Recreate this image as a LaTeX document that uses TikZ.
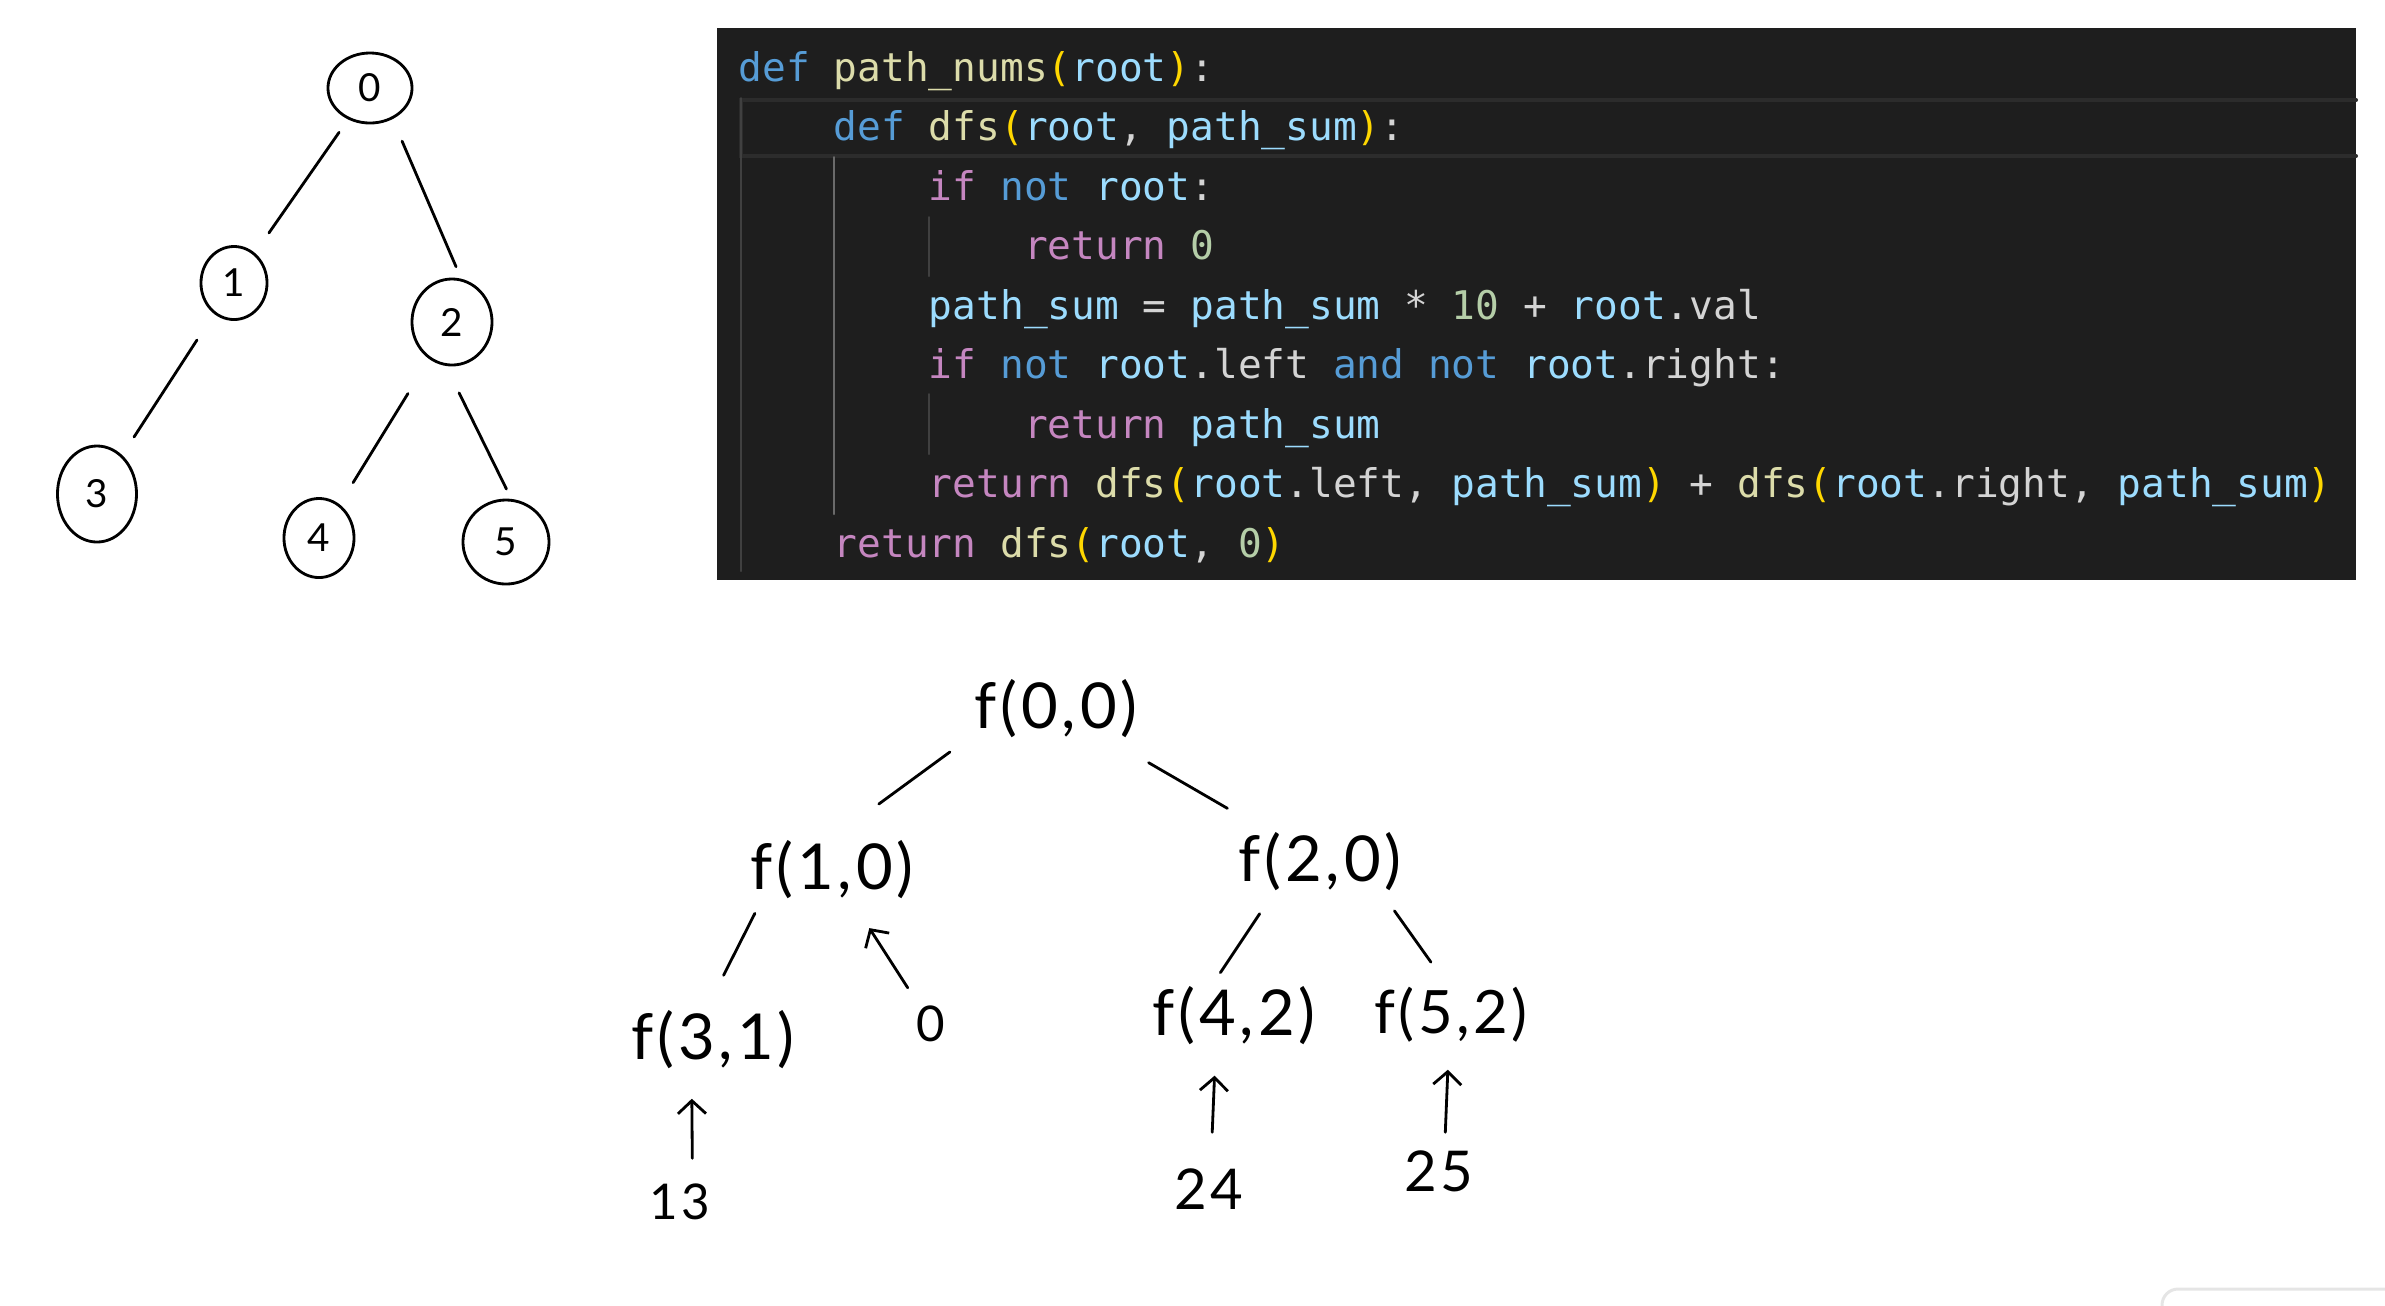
\documentclass[tikz,border=0pt]{standalone}
\usepackage{fontspec}
\usepackage{tikz}
\usetikzlibrary{arrows.meta, shapes.geometric}
\newfontfamily\codefont{DejaVu Sans Mono}
\newfontfamily\handfont[LetterSpace=6]{Lato}
\definecolor{codebg}{HTML}{1E1E1E}
\definecolor{codeplain}{HTML}{D4D4D4}
\definecolor{kwblue}{HTML}{569CD6}
\definecolor{ctlpink}{HTML}{C586C0}
\definecolor{fnyellow}{HTML}{DCDCAA}
\definecolor{varblue}{HTML}{9CDCFE}
\definecolor{numgreen}{HTML}{B5CEA8}
\definecolor{bracketgold}{HTML}{FFD700}
\definecolor{guidegray}{HTML}{404040}
\definecolor{guideactive}{HTML}{6A6A6A}
\definecolor{linehl}{HTML}{2C2C2C}
\newcommand{\tkKw}[1]{\textcolor{kwblue}{#1}}
\newcommand{\tkCtl}[1]{\textcolor{ctlpink}{#1}}
\newcommand{\tkFn}[1]{\textcolor{fnyellow}{#1}}
\newcommand{\tkVar}[1]{\textcolor{varblue}{#1}}
\newcommand{\tkNum}[1]{\textcolor{numgreen}{#1}}
\newcommand{\tkBr}[1]{\textcolor{bracketgold}{#1}}

\begin{document}
\begin{tikzpicture}
		[x=0.01cm, y=-0.01cm, line cap=round,
		codeline/.style={anchor=base west, inner sep=0pt, text=codeplain, font=\codefont\fontsize{11.23}{14}\selectfont},
		indentguide/.style={draw=guidegray, line width=0.02cm},
		treenode/.style={ellipse, draw, line width=0.8pt, inner sep=0pt, font=\handfont\fontsize{11}{11}\selectfont},
		treeedge/.style={line width=0.8pt},
		callnode/.style={inner sep=0pt, minimum width=1.8cm, minimum height=0.62cm, font=\handfont\fontsize{18}{18}\selectfont},
		retnode/.style={inner sep=0pt, minimum width=0.8cm, minimum height=0.6cm, font=\handfont\fontsize{16}{16}\selectfont},
		retarrow/.style={treeedge, -{Straight Barb[length=0.13cm, width=0.28cm]}}]
	
		\useasboundingbox (0,0) rectangle (2385,1305);
	
		% code %
		\fill[codebg] (717,28) rectangle (2356,580);
		\draw[linehl, line width=0.04cm] (2356,100) -- (741,100) -- (741,156) -- (2356,156);
		\draw[indentguide] (741,98) -- (741,571);
		\draw[indentguide, draw=guideactive] (834,157) -- (834,514);
		\draw[indentguide] (929,217) -- (929,276);
		\draw[indentguide] (929,394) -- (929,454);
	
		\node[codeline] (l1) at (738,81) {\tkKw{def} \tkFn{path\_nums}\tkBr{(}\tkVar{root}\tkBr{)}:};
		\node[codeline] (l2) at (833.1,140.5) {\tkKw{def} \tkFn{dfs}\tkBr{(}\tkVar{root}, \tkVar{path\_sum}\tkBr{)}:};
		\node[codeline] (l3) at (928.2,200) {\tkCtl{if} \tkKw{not} \tkVar{root}:};
		\node[codeline] (l4) at (1023.4,259.5) {\tkCtl{return} \tkNum{0}};
		\node[codeline] (l5) at (928.2,319) {\tkVar{path\_sum} = \tkVar{path\_sum} * \tkNum{10} + \tkVar{root}.val};
		\node[codeline] (l6) at (928.2,378.5) {\tkCtl{if} \tkKw{not} \tkVar{root}.left \tkKw{and} \tkKw{not} \tkVar{root}.right:};
		\node[codeline] (l7) at (1023.4,438) {\tkCtl{return} \tkVar{path\_sum}};
		\node[codeline] (l8) at (928.2,497.5) {\tkCtl{return} \tkFn{dfs}\tkBr{(}\tkVar{root}.left, \tkVar{path\_sum}\tkBr{)} + \tkFn{dfs}\tkBr{(}\tkVar{root}.right, \tkVar{path\_sum}\tkBr{)}};
		\node[codeline] (l9) at (833.1,557) {\tkCtl{return} \tkFn{dfs}\tkBr{(}\tkVar{root}, \tkNum{0}\tkBr{)}};
	
		% nodes %
		\node[treenode, minimum width=0.84cm, minimum height=0.70cm] (n0) at (370,88) {0};
		\node[treenode, minimum width=0.66cm, minimum height=0.73cm] (n1) at (234,283) {1};
		\node[treenode, minimum width=0.80cm, minimum height=0.86cm] (n2) at (452,322) {2};
		\node[treenode, minimum width=0.79cm, minimum height=0.96cm] (n3) at (97,494) {3};
		\node[treenode, minimum width=0.70cm, minimum height=0.79cm] (n4) at (319,538) {4};
		\node[treenode, minimum width=0.86cm, minimum height=0.84cm] (n5) at (506,542) {5};
	
		\node[callnode] (f00) at (1056,709) {f(0,0)};
		\node[callnode] (f10) at (832,870) {f(1,0)};
		\node[callnode] (f20) at (1320,862) {f(2,0)};
		\node[callnode] (f31) at (713,1040) {f(3,1)};
		\node[retnode, font=\handfont\fontsize{14}{14}\selectfont] (z0) at (931,1024) {0};
		\node[callnode] (f42) at (1234,1016) {f(4,2)};
		\node[callnode, font=\handfont\fontsize{17}{17}\selectfont] (f52) at (1451,1015) {f(5,2)};
		\node[retnode, font=\handfont\fontsize{14}{14}\selectfont] (r13) at (680,1202) {13};
		\node[retnode] (r24) at (1209,1189) {24};
		\node[retnode] (r25) at (1439,1171) {25};
	
		% edges %
		\draw[treeedge, shorten <=0.54cm, shorten >=0.61cm] (n0.center) -- (n1.center);
		\draw[treeedge, shorten <=0.24cm, shorten >=0.13cm] (n0.-54) -- (n2.78);
		\draw[treeedge, shorten <=0.68cm, shorten >=0.68cm] (n1.center) -- (n3.center);
		\draw[treeedge, shorten <=0.84cm, shorten >=0.65cm] (n2.center) -- (n4.center);
		\draw[treeedge, shorten <=0.30cm, shorten >=0.11cm] (n2.-98) -- (n5.83);
	
		\draw[treeedge, shorten <=0.19cm, shorten >=0.58cm] (f00.south west) -- (f10.north);
		\draw[treeedge, shorten <=1.07cm, shorten >=1.07cm] (f00.center) -- (f20.center);
		\draw[treeedge, shorten <=0.13cm, shorten >=0.37cm] (f10.204) -- (f31.101);
		\draw[treeedge, shorten <=0.24cm, shorten >=0.14cm] (f20.214) -- (f42.124);
		\draw[treeedge, shorten <=0.21cm, shorten >=0.26cm] (f20.333) -- (f52.99);
	
		\draw[retarrow, shorten <=0.43cm, shorten >=0.69cm] (z0.center) -- (f10.center);
		\draw[retarrow, shorten <=0.13cm, shorten >=0.27cm] (r13.68) -- (f31.236);
		\draw[retarrow, shorten <=0.26cm, shorten >=0.28cm] (r24.86) -- (f42.240);
		\draw[retarrow, shorten <=0.08cm, shorten >=0.23cm] (r25.79) -- (f52.266);
	
		% corner %
		\draw[black!10, line width=0.03cm, rounded corners=0.16cm] (2385,1289) -- (2162,1289) -- (2162,1340);
	
\end{tikzpicture}
\end{document}
